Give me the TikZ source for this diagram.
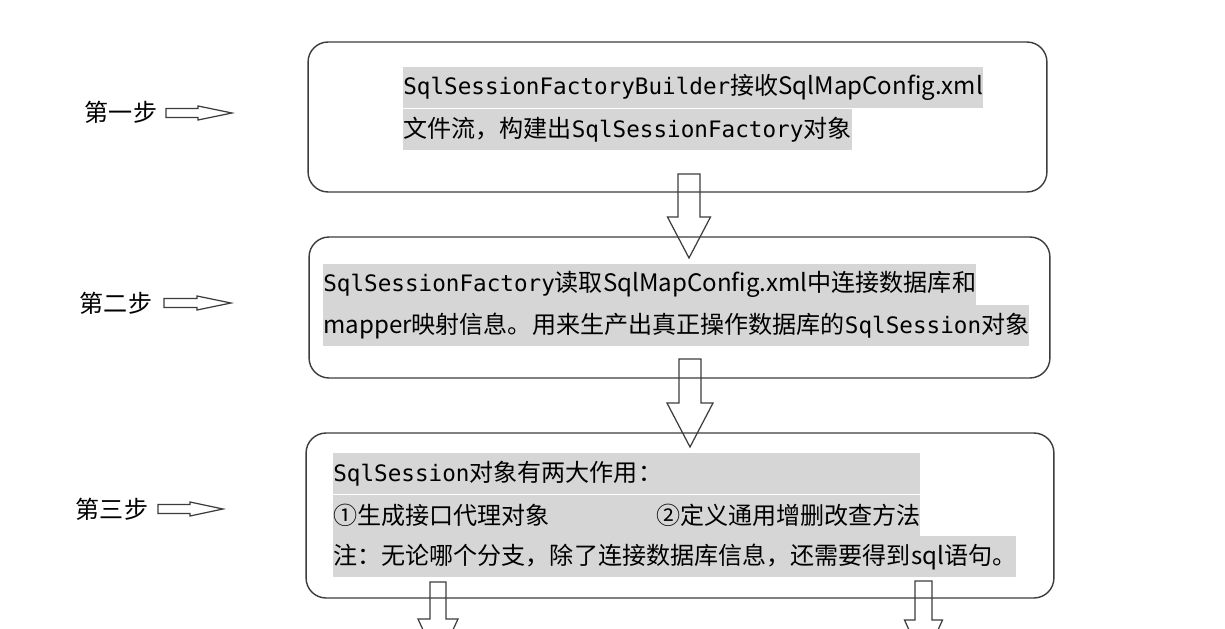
\documentclass[tikz,border=0pt]{standalone}
\usepackage{fontspec}
\setmainfont{Noto Sans CJK SC}
\newfontfamily\codefont[Scale=0.94]{DejaVu Sans Mono}
\newcommand{\sqlcode}[1]{{\codefont #1}}
\usetikzlibrary{positioning}
\definecolor{hl}{RGB}{214,214,214}
\definecolor{edge}{RGB}{60,60,60}
% hollow block arrows: x, top, head start, tip, shaft half, head half
\newcommand{\blockdown}[6]{%
  \draw[hollow] (#1-#5,#2) -- (#1+#5,#2) -- (#1+#5,#3) -- (#1+#6,#3) -- (#1,#4)
    -- (#1-#6,#3) -- (#1-#5,#3) -- cycle;}
% start, head start, tip, y
\newcommand{\blockright}[4]{%
  \draw[hollow] (#1,#4-4.5) -- (#2,#4-4.5) -- (#2,#4-7) -- (#3,#4) -- (#2,#4+7)
    -- (#2,#4+4.5) -- (#1,#4+4.5) -- cycle;}
\tikzset{
    stepbox/.style = {draw=edge, line width=0.8pt, rounded corners=0.4cm},
    hlline/.style = {fill=hl, anchor=west, inner xsep=0pt, inner ysep=0pt, minimum height=0.82cm},
    hollow/.style = {draw=edge, line width=0.7pt}
}
\begin{document}
\begin{tikzpicture}[
    x=0.02cm, y=-0.02cm,
    every node/.style={font=\fontsize{13.7}{16}\selectfont}
]
    \clip (0,0) rectangle (1225,629);
    \fill[white] (0,0) rectangle (1225,629);

    % boxes
    \node[stepbox, minimum width=14.78cm, minimum height=3cm] (box1) at (677.5,117) {};
    \node[stepbox, minimum width=14.82cm, minimum height=2.82cm] (box2) at (679.5,307.5) {};
    \node[stepbox, minimum width=14.96cm, minimum height=3.3cm] (box3) at (680,515.5) {};

    % box texts
    \node[hlline] (t1a) at (403,87.5) {\sqlcode{SqlSessionFactoryBuilder}接收SqlMapConfig.xml};
    \node[hlline, anchor=north west] (t1b) at (t1a.south west) {文件流，构建出\sqlcode{SqlSessionFactory}对象};

    \node[hlline] (t2a) at (323,284) {\sqlcode{SqlSessionFactory}读取SqlMapConfig.xml中连接数据库和};
    \node[hlline, anchor=north west] (t2b) at (t2a.south west) {mapper映射信息。用来生产出真正操作数据库的\sqlcode{SqlSession}对象};

    \node[hlline, text width=11.74cm, align=left] (t3a) at (333,473.5) {\sqlcode{SqlSession}对象有两大作用：};
    \node[hlline, text width=11.74cm, align=left, anchor=north west] (t3b) at (t3a.south west) {\makebox[6.46cm][l]{①生成接口代理对象}②定义通用增删改查方法};
    \node[hlline, anchor=north west] (t3c) at (t3b.south west) {注：无论哪个分支，除了连接数据库信息，还需要得到sql语句。};

    % step labels
    \node (s1) at (121,112) {第一步};
    \node (s2) at (116,303) {第二步};
    \node (s3) at (112,509) {第三步};

    \blockright{166}{198}{232}{113}
    \blockright{164}{197}{231}{303}
    \blockright{158}{190}{223}{509}

    % arrows between boxes
    \blockdown{689}{174}{217}{258}{11}{21.5}
    \blockdown{690}{359}{403}{447}{11}{23}
    \blockdown{438}{582}{619}{662}{8}{20}
    \blockdown{923.5}{581}{620}{662}{8.5}{19}
\end{tikzpicture}
\end{document}
